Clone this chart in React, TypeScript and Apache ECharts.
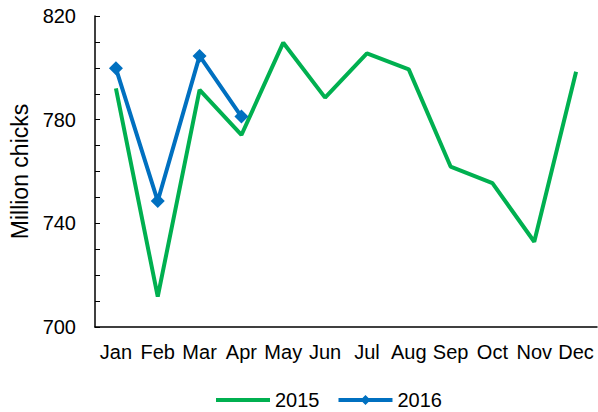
import React, { useEffect, useRef } from "react";
import * as echarts from "echarts";

const months = ["Jan", "Feb", "Mar", "Apr", "May", "Jun", "Jul", "Aug", "Sep", "Oct", "Nov", "Dec"];
const values2015 = [792.1, 711.7, 791.5, 774.1, 809.7, 788.5, 805.6, 799.4, 761.9, 755.5, 732.9, 798.5];
const values2016 = [799.8, 748.6, 804.6, 781.2];
const yMin = 700;
const yMax = 820;
const yInterval = 40;

export default function App() {
  const ref = useRef<HTMLDivElement>(null);
  useEffect(() => {
    if (!ref.current) return;
    const chart = echarts.init(ref.current, undefined, { renderer: "svg" });
    const font = "'Liberation Sans', Arial, sans-serif";
    chart.setOption({
      animation: false,
      textStyle: { fontFamily: font },
      grid: { left: 93, right: 1, top: 16, bottom: 85, containLabel: false },
      legend: {
        top: 385,
        left: 211,
        itemWidth: 54,
        itemHeight: 10,
        itemGap: 19,
        textStyle: { fontSize: 20, color: "#000", fontFamily: font },
        data: [
          { name: "2015", icon: "path://M0,0L54,0L54,4L0,4Z" },
          { name: "2016", icon: "path://M0,4L54,4L54,8L0,8Z M22,6L27,1L32,6L27,11Z" },
        ],
      },
      xAxis: {
        type: "category",
        data: months,
        boundaryGap: true,
        axisLine: { lineStyle: { color: "#000", width: 1.5 } },
        axisTick: { inside: true, length: 5, lineStyle: { color: "#000", width: 1 } },
        axisLabel: { color: "#000", fontSize: 20, margin: 15, interval: 0, hideOverlap: false, fontFamily: font },
      },
      yAxis: {
        type: "value",
        min: yMin,
        max: yMax,
        interval: yInterval,
        name: "Million chicks",
        nameLocation: "middle",
        nameGap: 64,
        nameTextStyle: { fontSize: 23, color: "#000", fontFamily: font },
        axisLine: { show: true, lineStyle: { color: "#000", width: 1.5 } },
        axisTick: { show: true, inside: true, length: 5, lineStyle: { color: "#000" } },
        minorTick: { show: true, splitNumber: 4, length: 5, lineStyle: { color: "#000" } },
        splitLine: { show: false },
        axisLabel: { color: "#000", fontSize: 20, margin: 19, fontFamily: font },
      },
      series: [
        {
          name: "2015",
          type: "line",
          data: values2015,
          showSymbol: false,
          symbol: "none",
          lineStyle: { color: "#00B050", width: 4 },
          itemStyle: { color: "#00B050" },
        },
        {
          name: "2016",
          type: "line",
          data: values2016,
          symbol: "diamond",
          symbolSize: 14,
          lineStyle: { color: "#0070C0", width: 4 },
          itemStyle: { color: "#0070C0" },
        },
      ],
    });
    return () => chart.dispose();
  }, []);
  return <div ref={ref} style={{ position: "absolute", left: 0, top: 0, width: 598, height: 412 }} />;
}
